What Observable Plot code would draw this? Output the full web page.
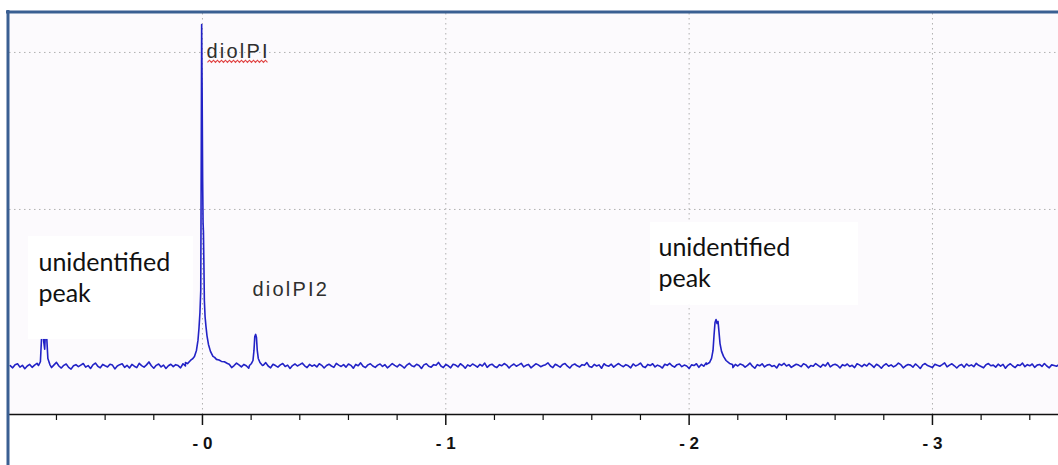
<!DOCTYPE html>
<html>
<head>
<meta charset="utf-8">
<script src="https://cdn.jsdelivr.net/npm/d3@7"></script>
<script src="https://cdn.jsdelivr.net/npm/@observablehq/plot@0.6"></script>
<style>
  html, body { margin: 0; padding: 0; background: #fff; }
  #chart svg { display: block; }
</style>
</head>
<body>
<div id="chart"></div>
<script>
// ---------- data ----------
// axis ticks (chemical shift, ppm)
const majorTicks = [0, -1, -2, -3];
const minorTicks = [0.6, 0.4, 0.2, -0.2, -0.4, -0.6, -0.8, -1.2, -1.4, -1.6, -1.8, -2.2, -2.4, -2.6, -2.8, -3.2, -3.4];
const tickLabels = ["- 0", "- 1", "- 2", "- 3"];
const gridX = [0, -1, -2, -3];
const gridY = [1, 2];

// baseline readings, every 0.01 ppm starting at +0.79 ppm (intensity in 1/700 grid units)
const baseStart = 0.79, baseStep = 0.01, baseUnit = 700;
const baselineNoise = [
  4, -6, 8, 12, -3, 5, -10, 2, 9, -4,
  6, 14, -2, -8, 3, 10, 0, -5, 7, 18,
  2, -7, 5, 11, -4, -12, 3, 8, -1, 6,
  13, -3, 4, -9, 7, 15, 1, -6, 9, 3,
  -2, 10, 6, -11, 2, 8, 12, -4, 5, -7,
  9, 1, -5, 14, 4, -3, 7, 20, 3, -8,
  5, 11, -2, 6, -9, 3, 10, -1, 8, 4,
  -6, 12, 2, 7, 16, 5, -3, 9, 1, -10,
  6, 3, 13, -4, 8, 2, -7, 11, 5, 0,
  10, -5, 4, 15, 7, -2, 9, 3, -8, 6,
  12, 1, -4, 8, 5, 17, 2, -6, 10, 4,
  -3, 7, 13, 0, 6, -9, 4, 11, 2, 8,
  15, 3, -5, 9, 1, 7, -2, 12, 5, -7,
  4, 10, 2, -4, 14, 6, 0, 8, -3, 11,
  5, -8, 9, 3, 16, 1, -5, 7, 12, 2,
  -4, 6, 11, 0, 8, -6, 3, 13, 5, -2,
  9, 2, -7, 6, 14, 3, -1, 10, 4, -9,
  7, 12, 1, -3, 8, 5, 18, 2, -5, 9,
  3, -6, 10, 6, -2, 12, 4, -8, 7, 1,
  11, 5, -3, 9, 2, 15, -4, 6, 10, 0,
  -5, 8, 3, 13, 6, -7, 4, 11, 1, 7,
  14, -2, 5, 9, -6, 3, 12, 7, -1, 4,
  8, 16, 2, -5, 10, 4, -3, 9, 13, 1,
  -7, 6, 11, 3, -2, 8, 5, 17, 0, -4,
  9, 2, 7, -8, 12, 4, 1, 10, -3, 6,
  13, 5, -1, 8, 3, -6, 11, 2, 7, 15,
  0, -5, 9, 4, 12, -2, 6, 1, -7, 10,
  5, 14, 3, -3, 8, 11, -1, 6, 2, -9,
  7, 4, 12, -4, 9, 1, 16, 5, -2, 8,
  3, -6, 10, 6, 0, 13, 4, -5, 9, 2,
  11, 7, -3, 5, 15, 1, -8, 8, 3, 12,
  -2, 6, 9, 0, 4, -7, 11, 5, 14, 2,
  8, -4, 3, 10, 6, -1, 12, 7, -6, 4,
  1, 13, 5, -3, 9, 2, 17, -2, 6, 10,
  4, -7, 8, 3, 11, 0, 5, -5, 12, 7,
  -1, 9, 2, 14, 6, -4, 10, 3, -8, 5,
  12, 1, 7, -2, 4, 15, 8, -6, 3, 9,
  6, -3, 11, 2, -9, 7, 13, 4, 0, -5,
  10, 5, 1, 8, 16, -2, 6, 12, 3, -7,
  4, 9, -4, 11, 2, 7, -1, 14, 5, 0,
  -6, 8, 13, 3, 6, -3, 10, 1, 9, -8,
  5, 12, 2, -5, 7, 4, 15, -1, 8, 3,
  11, -4, 6, 9, 0, 13, 2, -6, 7, 4,
  1, 8
];

// peaks: [ppm, intensity]
const peakUnknown1 = [
  [0.674, 0.006], [0.666, 0.030], [0.6607, 0.200], [0.6566, 0.260], [0.6525, 0.160],
  [0.6484, 0.110], [0.6443, 0.250], [0.6402, 0.190], [0.6353, 0.050], [0.6271, 0.012]
];
const peakDiolPI = [
  [0.0699, 0.025], [0.0615, 0.018], [0.0493, 0.038], [0.0411, 0.048], [0.0329, 0.064],
  [0.0247, 0.102], [0.0185, 0.166], [0.0144, 0.242], [0.0103, 0.344], [0.0070, 0.484],
  [0.0049, 1.376], [0.0033, 2.178], [0.0016, 1.815], [-0.0008, 1.178], [-0.0025, 0.917],
  [-0.0041, 0.854], [-0.0058, 0.662], [-0.0078, 0.420], [-0.0107, 0.318], [-0.0144, 0.255],
  [-0.0185, 0.197], [-0.0247, 0.140], [-0.0329, 0.096], [-0.0432, 0.064], [-0.0500, 0.058],
  [-0.0575, 0.045], [-0.0680, 0.041], [-0.0781, 0.032], [-0.0900, 0.030], [-0.1028, 0.019]
];
const peakDiolPI2 = [
  [-0.1932, 0.006], [-0.2014, 0.019], [-0.2076, 0.038], [-0.2117, 0.102], [-0.2150, 0.191],
  [-0.2187, 0.204], [-0.2219, 0.185], [-0.2252, 0.102], [-0.2294, 0.051], [-0.2363, 0.025],
  [-0.2466, 0.006]
];
const peakUnknown2 = [
  [-2.0715, 0.013], [-2.0838, 0.025], [-2.0921, 0.051], [-2.0982, 0.102], [-2.1023, 0.197],
  [-2.1064, 0.280], [-2.1106, 0.299], [-2.1147, 0.274], [-2.1188, 0.287], [-2.1229, 0.217],
  [-2.1270, 0.146], [-2.1332, 0.096], [-2.1414, 0.064], [-2.1517, 0.038], [-2.1661, 0.019],
  [-2.1784, 0.013]
];

// annotations
const peakLabels = [
  {label: "diolPI", ppm: -0.0164, v: 1.962},
  {label: "diolPI2", ppm: -0.2055, v: 0.446}
];
const noteBoxes = [
  {x1: 0.715, x2: 0.037, y1: 0.172, y2: 0.828},
  {x1: -1.841, x2: -2.696, y1: 0.389, y2: 0.917}
];
const noteLabels = [
  {label: "unidentified\npeak", ppm: 0.674, v: 0.408},
  {label: "unidentified\npeak", ppm: -1.874, v: 0.503}
];

// ---------- build spectrum ----------
const peaks = [peakUnknown1, peakDiolPI, peakDiolPI2, peakUnknown2];
const ranges = peaks.map(pk => [d3.min(pk, d => d[0]), d3.max(pk, d => d[0])]);
const base = baselineNoise
  .map((n, i) => ({ppm: +(baseStart - i * baseStep).toFixed(3), v: n / baseUnit}))
  .filter(d => !ranges.some(([a, b]) => d.ppm >= a && d.ppm <= b));
const spectrum = base
  .concat(...peaks.map(pk => pk.map(([ppm, v]) => ({ppm, v}))))
  .sort((a, b) => b.ppm - a.ppm);

const xDomain = [0.793, -3.518];
const yDomain = [-0.306, 2.248];
const blue = "#3a5f92";
const gridStyle = {stroke: "#b0b0b0", strokeDasharray: "1.5,3.5", strokeWidth: 1};
const tickTable = majorTicks.map((t, i) => ({t, label: tickLabels[i]}));

const chart = Plot.plot({
  width: 1058,
  height: 465,
  marginLeft: 9,
  marginTop: 13,
  marginRight: 0,
  marginBottom: 51,
  style: {background: "#ffffff", fontFamily: "'Liberation Sans', Arial, sans-serif", color: "#111"},
  x: {domain: xDomain, axis: null},
  y: {domain: yDomain, axis: null},
  marks: [
    Plot.frame({fill: "#fcfafd", stroke: "none"}),
    Plot.ruleY(gridY, gridStyle),
    Plot.ruleX(gridX, gridStyle),
    Plot.line(spectrum, {x: "ppm", y: "v", stroke: "#2222c6", strokeWidth: 1.6}),
    Plot.rect(noteBoxes, {x1: "x1", x2: "x2", y1: "y1", y2: "y2", fill: "#ffffff"}),
    Plot.text(peakLabels, {x: "ppm", y: "v", text: "label", textAnchor: "start", lineAnchor: "bottom",
      fontSize: 20, fill: "#2e2e2e", fontFamily: "'Liberation Sans', Arial, sans-serif"}),
    Plot.text(noteLabels, {x: "ppm", y: "v", text: "label", textAnchor: "start", lineAnchor: "bottom",
      fontSize: 25, lineHeight: 1.24, fill: "#111", fontFamily: "Lato, 'Open Sans', sans-serif"}),
    Plot.ruleY([yDomain[0]], {stroke: "#111", strokeWidth: 1.5}),
    Plot.axisX({ticks: majorTicks, tickSize: 11, strokeWidth: 1.5, tickFormat: () => ""}),
    Plot.axisX({ticks: minorTicks, tickSize: 6, strokeWidth: 1.2, tickFormat: () => ""}),
    Plot.text(tickTable, {x: "t", y: () => yDomain[0], text: "label", lineAnchor: "top", dy: 22,
      fontSize: 17, fontWeight: "bold", fill: "#111", fontFamily: "'Liberation Sans', Arial, sans-serif"}),
    Plot.ruleX([xDomain[0]], {dx: -1.5, stroke: blue, strokeWidth: 3, insetTop: -3, insetBottom: -51}),
    Plot.ruleY([yDomain[1]], {dy: -1.5, stroke: blue, strokeWidth: 3, insetLeft: -3})
  ]
});

document.getElementById("chart").appendChild(chart);

// letter spacing on peak labels and spell-check style squiggle under "diolPI"
d3.select(chart).selectAll("text").each(function () {
  const t = this.textContent;
  if (t === "diolPI" || t === "diolPI2") this.setAttribute("letter-spacing", "2.2");
});
d3.select(chart).selectAll("text").each(function () {
  if (this.textContent !== "diolPI") return;
  const b = this.getBBox();
  const m = this.getCTM();
  const x0 = m.e + b.x + 1, x1 = m.e + b.x + b.width - 2;
  const yb = m.f + b.y + b.height;
  let d = `M${x0},${yb}`;
  let up = true;
  for (let x = x0 + 2; x <= x1; x += 2) { d += `L${x},${up ? yb - 2.2 : yb}`; up = !up; }
  d3.select(chart).append("path").attr("d", d)
    .attr("fill", "none").attr("stroke", "#e04040").attr("stroke-width", 1.1);
});
</script>
</body>
</html>
